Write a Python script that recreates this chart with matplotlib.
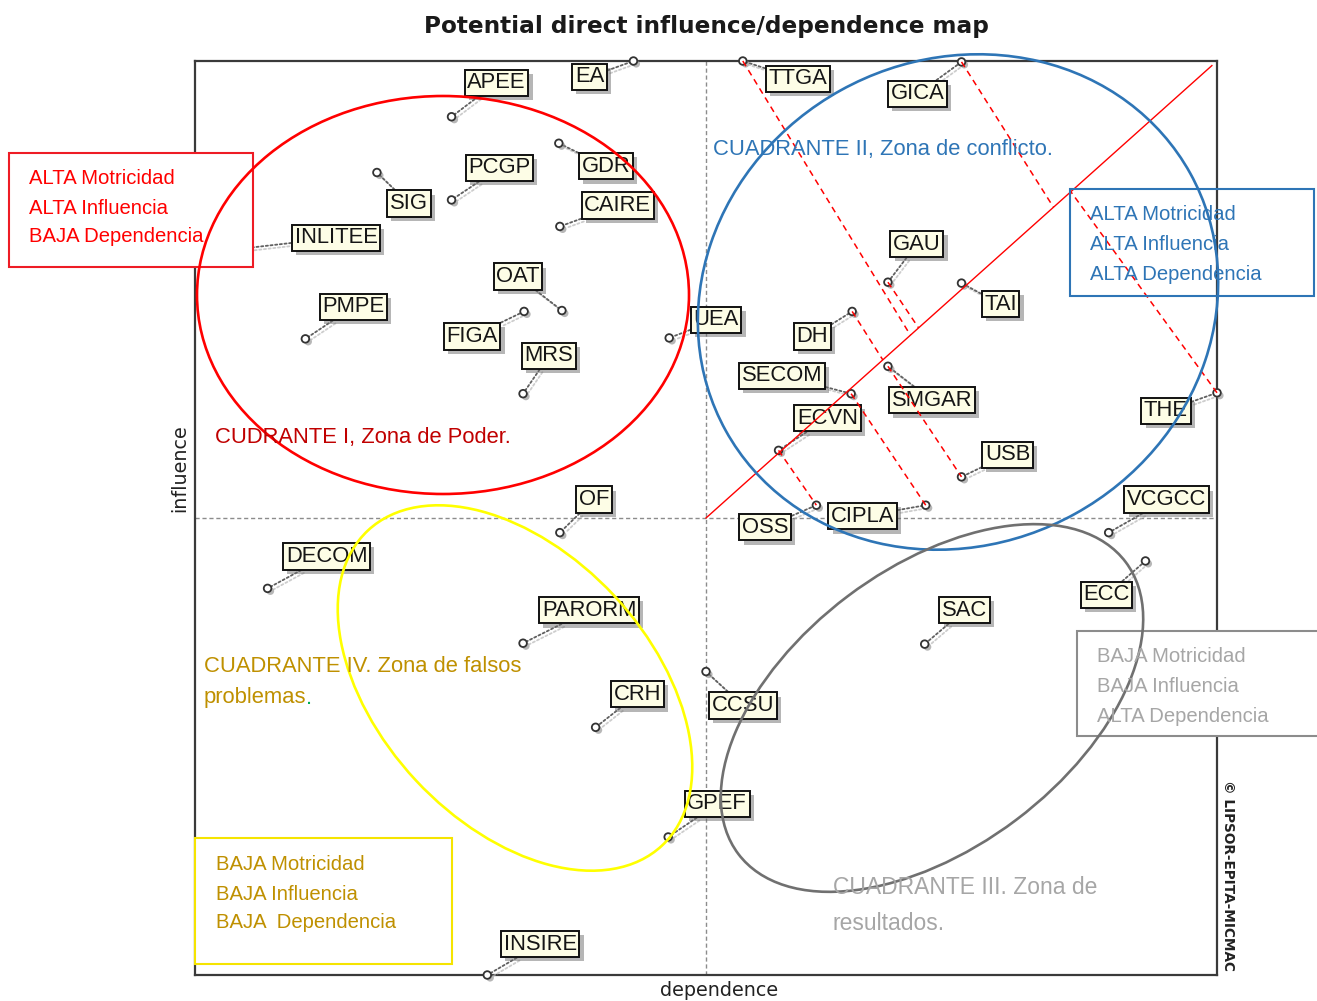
import matplotlib
matplotlib.use('Agg')
import matplotlib.pyplot as plt
from matplotlib.patches import Ellipse, Rectangle
import matplotlib.patheffects as pe
from matplotlib import font_manager as fm

# ---------------- data (dependence = x, influence = y; 0-100 scale) ----------------
names = ['APEE', 'EA', 'TTGA', 'GICA', 'SIG', 'PCGP', 'GDR', 'CAIRE', 'INLITEE', 'OAT',
         'PMPE', 'FIGA', 'MRS', 'UEA', 'GAU', 'TAI', 'DH', 'SECOM', 'SMGAR', 'ECVN',
         'USB', 'OSS', 'CIPLA', 'THE', 'VCGCC', 'OF', 'DECOM', 'PARORM', 'SAC', 'ECC',
         'CRH', 'CCSU', 'GPEF', 'INSIRE']
dependence = [25.1, 42.9, 53.6, 75.0, 17.8, 25.1, 35.6, 35.7, 0.1, 35.9,
              10.8, 32.2, 32.1, 46.4, 67.8, 75.0, 64.3, 64.2, 67.8, 57.1,
              75.0, 60.8, 71.5, 100.0, 89.4, 35.7, 7.1, 32.1, 71.4, 93.0,
              39.2, 50.0, 46.3, 28.6]
influence = [93.9, 100.0, 100.0, 99.9, 87.8, 84.8, 91.0, 81.9, 78.9, 72.7,
             69.6, 72.6, 63.6, 69.7, 75.8, 75.7, 72.6, 63.6, 66.6, 57.4,
             54.5, 51.4, 51.4, 63.7, 48.4, 48.4, 42.3, 36.3, 36.2, 45.3,
             27.1, 33.2, 15.1, 0.0]

# label placement offsets (pixels, screen: +x right, +y down)
label_dx = [45, -44, 55, -44, 32, 48, 47, 58, 140, -44,
            48, -52, 26, 47, 29, 39, -40, -69, 44, 49,
            46, -51, -63, -51, 58, 34, 59, 66, 40, -39,
            42, 37, 49, 53]
label_dy = [-34, 16, 18, 32, 31, -32, 23, -21, -16, -34,
            -32, 25, -38, -18, -38, 21, 25, -18, 34, -32,
            -22, 22, 11, 18, -33, -33, -32, -33, -34, 34,
            -33, 34, -33, -31]

# red projection lines
diagonal = ([50.0, 99.5], [50.0, 99.5])
links_point_to_point = [('SMGAR', 'USB'), ('SECOM', 'CIPLA'), ('ECVN', 'OSS')]
links_point_to_diag = [('TTGA', 70.0), ('GAU', 70.8), ('GICA', 84.0), ('THE', 85.7), ('DH', 67.3)]

# ---------------- fonts ----------------
avail = {f.name for f in fm.fontManager.ttflist}
if 'Liberation Sans Narrow' in avail:
    NARROW, NSCALE = 'Liberation Sans Narrow', 1.0
else:
    NARROW, NSCALE = 'Liberation Sans', 0.85

W, H = 1317, 1001
fig = plt.figure(figsize=(W / 100, H / 100), dpi=100)
fig.patch.set_facecolor('white')

L, R, T, B = 195, 1217, 61, 975
ax = fig.add_axes([L / W, 1 - B / H, (R - L) / W, (B - T) / H], zorder=0)
ax.set_xlim(0, 100)
ax.set_ylim(0, 100)
ax.set_xticks([])
ax.set_yticks([])
for s in ax.spines.values():
    s.set_color('#3a3a3a')
    s.set_linewidth(1.6)

ax.axvline(50, color='#8c8c8c', lw=1.0, ls=(0, (3, 2)), zorder=1)
ax.axhline(50, color='#8c8c8c', lw=1.0, ls=(0, (3, 2)), zorder=1)

pos = {n: (x, y) for n, x, y in zip(names, dependence, influence)}

# labels with leader lines
for n, x, y, dx, dy in zip(names, dependence, influence, label_dx, label_dy):
    t = ax.annotate(n, xy=(x, y), xytext=(dx, -dy), textcoords='offset pixels',
                    ha='center', va='center', fontsize=15.8, family='Liberation Sans',
                    color='#151515',
                    bbox=dict(boxstyle='square,pad=0.12', fc='#fdfde6', ec='#111111', lw=1.4),
                    arrowprops=dict(arrowstyle='-', ls=(0, (1.2, 1.4)), color='#606060', lw=1.3,
                                    shrinkA=0, shrinkB=3),
                    annotation_clip=False, zorder=4)
    t.get_bbox_patch().set_path_effects([
        pe.SimplePatchShadow(offset=(3, -3), shadow_rgbFace='#6f6f6f', alpha=0.5), pe.Normal()])
    t.arrow_patch.set_path_effects([
        pe.SimpleLineShadow(offset=(2, -2), shadow_color='#b8b8b8', alpha=0.7), pe.Normal()])

ax.scatter(dependence, influence, s=30, facecolors='white', edgecolors='#333333',
           linewidths=1.3, zorder=5, clip_on=False,
           path_effects=[pe.SimplePatchShadow(offset=(2, -2), shadow_rgbFace='#888888', alpha=0.6),
                         pe.Normal()])

# red lines
ax.plot(diagonal[0], diagonal[1], color='#ff0000', lw=1.0, zorder=6, clip_on=False)
for a, b in links_point_to_point:
    ax.plot([pos[a][0], pos[b][0]], [pos[a][1], pos[b][1]], color='#ff0000', lw=1.1,
            ls=(0, (4, 3)), zorder=6, clip_on=False)
for a, d in links_point_to_diag:
    ax.plot([pos[a][0], d], [pos[a][1], d], color='#ff0000', lw=1.1,
            ls=(0, (4, 3)), zorder=6, clip_on=False)

# ---------------- overlay (pixel space) ----------------
ov = fig.add_axes([0, 0, 1, 1], zorder=10)
ov.set_xlim(0, W)
ov.set_ylim(H, 0)
ov.axis('off')
ov.patch.set_alpha(0)

# boxes
ov.add_patch(Rectangle((9, 153), 244, 114, fc='white', ec='#ee1c25', lw=1.5, zorder=1))
ov.add_patch(Rectangle((1070, 189), 244, 107, fc='none', ec='#2e75b6', lw=1.5, zorder=1))
ov.add_patch(Rectangle((1077, 631), 250, 105, fc='white', ec='#8c8c8c', lw=1.5, zorder=1, clip_on=False))
ov.add_patch(Rectangle((195, 838), 257, 126, fc='white', ec='#f5e400', lw=1.5, zorder=1))

# ellipses
ov.add_patch(Ellipse((443, 295), 492, 398, angle=0, fill=False, ec='#ff0000', lw=1.9, zorder=2))
ov.add_patch(Ellipse((958, 302), 531, 484, angle=-29, fill=False, ec='#2e75b6', lw=1.9, zorder=2))
ov.add_patch(Ellipse((515, 688), 431, 271, angle=47, fill=False, ec='#ffff00', lw=1.9, zorder=2))
ov.add_patch(Ellipse((932, 708), 485, 280, angle=-37, fill=False, ec='#707070', lw=1.9, zorder=2))

BS = 17.2 * NSCALE
ZS = 19.0 * NSCALE

def lines(x, ys, txts, color, size):
    for y, s in zip(ys, txts):
        ov.text(x, y, s, color=color, fontsize=size, family=NARROW, ha='left', va='center', zorder=3)

lines(29, [179, 208, 237], ['ALTA Motricidad', 'ALTA Influencia', 'BAJA Dependencia'], '#ff0000', BS)
lines(1090, [214, 244, 274], ['ALTA Motricidad', 'ALTA Influencia', 'ALTA Dependencia'], '#2e75b6', BS)
lines(1097, [657, 687, 716], ['BAJA Motricidad', 'BAJA Influencia', 'ALTA Dependencia'], '#a6a6a6', BS)
lines(216, [864, 894, 923], ['BAJA Motricidad', 'BAJA Influencia', 'BAJA  Dependencia'], '#bf9000', BS)

lines(713, [150], ['CUADRANTE II, Zona de conflicto.'], '#2e75b6', ZS * 0.98)
lines(215, [437], ['CUDRANTE I, Zona de Poder.'], '#c00000', ZS * 0.98)
lines(204, [666], ['CUADRANTE IV. Zona de falsos'], '#bf9000', ZS * 0.98)
tp = ov.text(204, 698, 'problemas', color='#bf9000', fontsize=ZS * 0.98, family=NARROW,
             ha='left', va='center', zorder=3)
ov.annotate('.', xy=(1, 0), xycoords=tp, ha='left', va='bottom', color='#00b050',
            fontsize=ZS * 0.98, family=NARROW, zorder=3)
lines(833, [887, 923], ['CUADRANTE III. Zona de', 'resultados.'], '#a6a6a6', ZS * 1.02)

# titles / axis labels
ov.text(706, 27, 'Potential direct influence/dependence map', fontsize=16.7, fontweight='bold',
        family='DejaVu Sans', color='#1a1a1a', ha='center', va='center')
ov.text(719, 990, 'dependence', fontsize=13.8, family='DejaVu Sans', color='#222222',
        ha='center', va='center')
ov.text(180, 468, 'influence', fontsize=13.8, family='DejaVu Sans', color='#222222',
        ha='center', va='center', rotation=90)
ov.text(1228, 875, '\u00a9 LIPSOR-EPITA-MICMAC', fontsize=9.8, fontweight='bold',
        family='DejaVu Sans', color='#222222', ha='center', va='center', rotation=-90)

fig.savefig('out.png', dpi=100, facecolor='white')
